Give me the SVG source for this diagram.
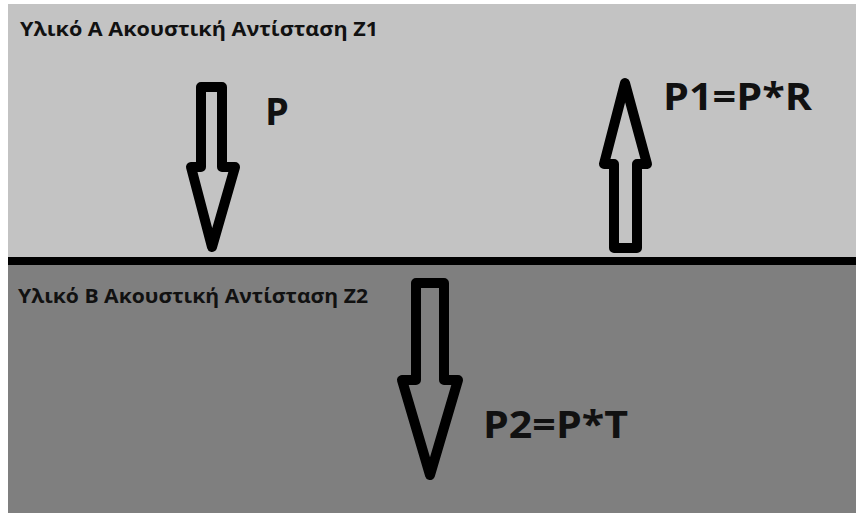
<svg xmlns="http://www.w3.org/2000/svg" width="856" height="513" viewBox="0 0 856 513">
<style>
.arrow{fill:none;stroke:#000;stroke-width:10;stroke-linejoin:round}
.lbl{font-family:"Open Sans","Noto Sans","DejaVu Sans",sans-serif;font-weight:bold;fill:#111}
.small{font-size:19px}
.big{font-size:38px}
</style>
<rect x="0" y="0" width="856" height="513" fill="#fff"/>
<g id="materialA">
<rect x="8" y="4" width="848" height="253" fill="#c3c3c3"/>
<text class="lbl small" x="20" y="36" textLength="358" lengthAdjust="spacingAndGlyphs">Υλικό Α Ακουστική Αντίσταση Ζ1</text>
</g>
<g id="materialB">
<rect x="8" y="265" width="848" height="248" fill="#7f7f7f"/>
<text class="lbl small" x="18" y="303" textLength="350" lengthAdjust="spacingAndGlyphs">Υλικό Β Ακουστική Αντίσταση Ζ2</text>
</g>
<g id="interface">
<rect x="8" y="257" width="848" height="8" fill="#000"/>
</g>
<g id="connectors">
<g id="incident">
<polygon class="arrow" points="201,87 222,87 222,167 235,167 212,247 191,167 201,167"/>
<text class="lbl big" x="265" y="125">P</text>
</g>
<g id="reflected">
<polygon class="arrow" points="625,83 647,164 637,164 637,248 614,248 614,164 604,164"/>
<text class="lbl big" x="663" y="110" textLength="149" lengthAdjust="spacingAndGlyphs">P1=P*R</text>
</g>
<g id="transmitted">
<polygon class="arrow" points="416,283 444,283 444,380 458,380 430,475 402,380 416,380"/>
<text class="lbl big" x="483" y="438" textLength="145" lengthAdjust="spacingAndGlyphs">P2=P*T</text>
</g>
</g>
</svg>
